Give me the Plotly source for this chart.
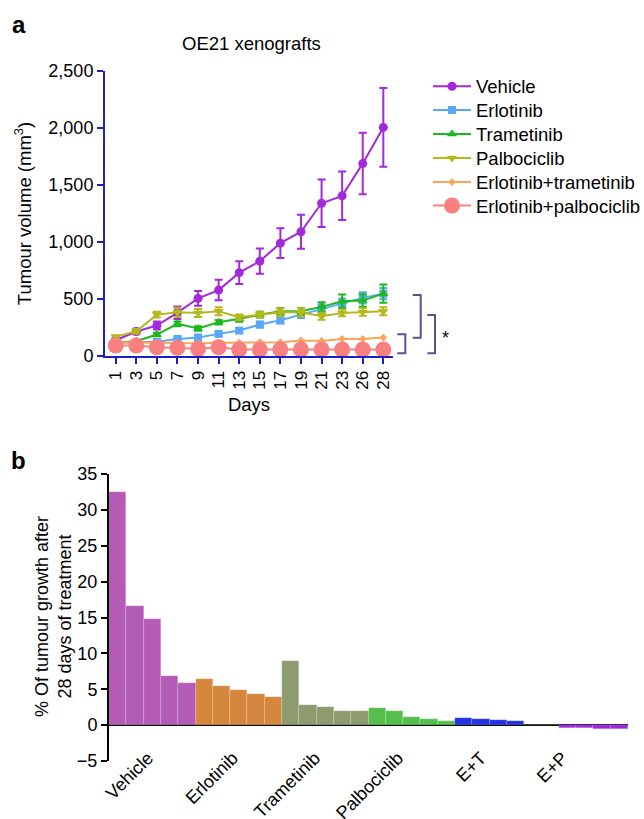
import plotly.graph_objects as go

W, H = 644, 819
FONT = "Liberation Sans, Arial, Helvetica, sans-serif"

# ---------------- Panel a data ----------------
days = ["1", "3", "5", "7", "9", "11", "13", "15", "17", "19", "21", "23", "26", "28"]

vehicle = [138, 215, 267, 380, 505, 578, 731, 832, 990, 1090, 1340, 1405, 1688, 2005]
vehicle_err = [20, 25, 35, 55, 65, 90, 100, 110, 130, 150, 208, 213, 270, 345]
erlotinib = [116, 118, 124, 150, 162, 194, 223, 276, 314, 363, 413, 460, 510, 547]
erlotinib_err = [10, 10, 12, 15, 15, 20, 20, 25, 30, 30, 40, 45, 50, 50]
trametinib = [116, 130, 188, 282, 241, 296, 326, 363, 392, 392, 431, 480, 486, 547]
trametinib_err = [10, 10, 15, 20, 20, 20, 25, 25, 30, 30, 40, 60, 55, 80]
palbociclib = [168, 217, 363, 384, 378, 392, 340, 363, 384, 384, 349, 378, 387, 392]
palbociclib_err = [15, 20, 25, 40, 35, 35, 25, 25, 35, 35, 30, 30, 35, 35]
erl_tram = [121, 116, 116, 114, 110, 116, 118, 121, 121, 136, 132, 150, 150, 162]
erl_palbo = [92, 92, 77, 72, 63, 77, 57, 57, 57, 57, 57, 57, 57, 57]

# ---------------- Panel b data ----------------
groups = ["Vehicle", "Erlotinib", "Trametinib", "Palbociclib", "E+T", "E+P"]
vehicle_pct = [32.5, 16.6, 14.8, 6.9, 5.9]
erlotinib_pct = [6.4, 5.4, 4.9, 4.3, 3.9]
trametinib_pct = [9.0, 2.8, 2.5, 2.0, 1.9]
palbociclib_pct = [2.4, 2.0, 1.2, 0.8, 0.55]
et_pct = [1.0, 0.9, 0.75, 0.55, 0.0]
ep_pct = [0.0, -0.35, -0.45, -0.5, -0.6]
group_values = [vehicle_pct, erlotinib_pct, trametinib_pct, palbociclib_pct, et_pct, ep_pct]
group_colors = ["#B35BB5", "#D5883D", "#8D9B6F", "#55BF4E", "#2532E6", "#A126E0"]
label_pos = [1.75, 6.65, 11.4, 16.2, 21.0, 25.7]


def px(x):
    return x / W


def py(y):
    return 1 - y / H


fig = go.Figure()

series = [
    ("Vehicle", vehicle, vehicle_err, "#A22ADB", "circle", 9),
    ("Erlotinib", erlotinib, erlotinib_err, "#5AA8F5", "square", 8),
    ("Trametinib", trametinib, trametinib_err, "#1DB81D", "triangle-up", 9),
    ("Palbociclib", palbociclib, palbociclib_err, "#B5B81A", "triangle-down", 9),
    ("Erlotinib+trametinib", erl_tram, None, "#F9A55A", "diamond", 6),
    ("Erlotinib+palbociclib", erl_palbo, None, "#F98080", "circle", 16),
]
legend_rows = [86.7, 110.5, 134.5, 158.5, 182.5, 206]
legend_layouts = {}
for i, (name, vals, err, col, sym, size) in enumerate(series):
    lg = "legend" if i == 0 else f"legend{i + 1}"
    fig.add_trace(go.Scatter(
        x=days, y=vals, name=name, mode="lines+markers",
        line=dict(color=col, width=2),
        marker=dict(color=col, symbol=sym, size=size),
        error_y=(dict(type="data", array=err, color=col, thickness=2, width=4)
                 if err is not None else None),
        xaxis="x", yaxis="y", showlegend=True, legend=lg,
    ))
    legend_layouts[lg] = dict(x=px(428), y=py(legend_rows[i]), xanchor="left", yanchor="middle",
                              font=dict(size=18.5), bgcolor="rgba(0,0,0,0)", itemwidth=38,
                              itemsizing="trace", borderwidth=0)

start = 0
for gname, vals, col in zip(groups, group_values, group_colors):
    fig.add_trace(go.Bar(
        x=list(range(start, start + len(vals))), y=vals, name=gname,
        marker=dict(color=col, line=dict(color="rgba(255,255,255,0.35)", width=0.5)),
        width=1, xaxis="x2", yaxis="y2", showlegend=False,
    ))
    start += len(vals)

blue = "#1E1EC8"
fig.update_layout(
    width=W, height=H, margin=dict(l=0, r=0, t=0, b=0, autoexpand=False),
    paper_bgcolor="white", plot_bgcolor="white",
    font=dict(family=FONT, size=18, color="black"),
    barmode="overlay", bargap=0,
    xaxis=dict(domain=[px(105), px(393)], type="category", range=[-0.52, 13.47],
               showline=True, linecolor=blue, linewidth=2, ticks="outside",
               tickcolor=blue, tickwidth=2, ticklen=6, tickangle=-90,
               showgrid=False, zeroline=False, anchor="y", automargin=False,
               title=dict(text="Days", font=dict(size=18.5), standoff=9),
               tickfont=dict(size=17)),
    yaxis=dict(domain=[py(356), py(71)], range=[0, 2500], tickvals=[0, 500, 1000, 1500, 2000, 2500],
               tickformat=",", showline=True, linecolor=blue, linewidth=2, ticks="outside",
               tickcolor=blue, tickwidth=2, ticklen=6, showgrid=False, zeroline=False,
               anchor="x", automargin=False,
               title=dict(text="Tumour volume (mm<sup>3</sup>)", font=dict(size=18.5), standoff=12),
               tickfont=dict(size=18)),
    xaxis2=dict(domain=[px(109), px(628)], range=[-0.5, 29.5], tickvals=label_pos,
                ticktext=groups, tickangle=-45, showline=False, ticks="", showgrid=False,
                zeroline=False, anchor="free", position=py(743), automargin=False,
                tickfont=dict(size=18)),
    yaxis2=dict(domain=[py(761), py(474)], range=[-5, 35], tickvals=list(range(-5, 40, 5)),
                tickformat="d", showline=True, linecolor="black", linewidth=2, ticks="outside",
                tickcolor="black", tickwidth=2, ticklen=6, showgrid=False, zeroline=True,
                zerolinecolor="black", zerolinewidth=2, anchor="x2", automargin=False,
                tickfont=dict(size=18)),
    **legend_layouts,
)

# comparison brackets
bcol = "#55558A"
brackets = [(397.3, 405.3, 334.3, 353.3), (412.7, 420.7, 295, 337.7), (427.3, 435, 315, 353.3)]
for x0, x1, y0, y1 in brackets:
    fig.add_shape(type="path", xref="paper", yref="paper",
                  path=f"M {px(x0)} {py(y0)} L {px(x1)} {py(y0)} L {px(x1)} {py(y1)} L {px(x0)} {py(y1)}",
                  line=dict(color=bcol, width=2))

ann = dict(xref="paper", yref="paper", showarrow=False, xanchor="center", yanchor="middle")
fig.add_annotation(x=px(445), y=py(338), text="*", font=dict(size=18, color="black"), **ann)
fig.add_annotation(x=px(251), y=py(43), text="OE21 xenografts", font=dict(size=18.5), **ann)
fig.add_annotation(x=px(18.5), y=py(24), text="<b>a</b>", font=dict(size=24), **ann)
fig.add_annotation(x=px(18.5), y=py(460), text="<b>b</b>", font=dict(size=24), **ann)
fig.add_annotation(x=px(53), y=py(617), text="% Of tumour growth after<br>28 days of treatment",
                   textangle=-90, font=dict(size=18), **ann)

fig.write_html("out.html", post_script="document.body.style.margin='0px';",
               config={"displayModeBar": False})
